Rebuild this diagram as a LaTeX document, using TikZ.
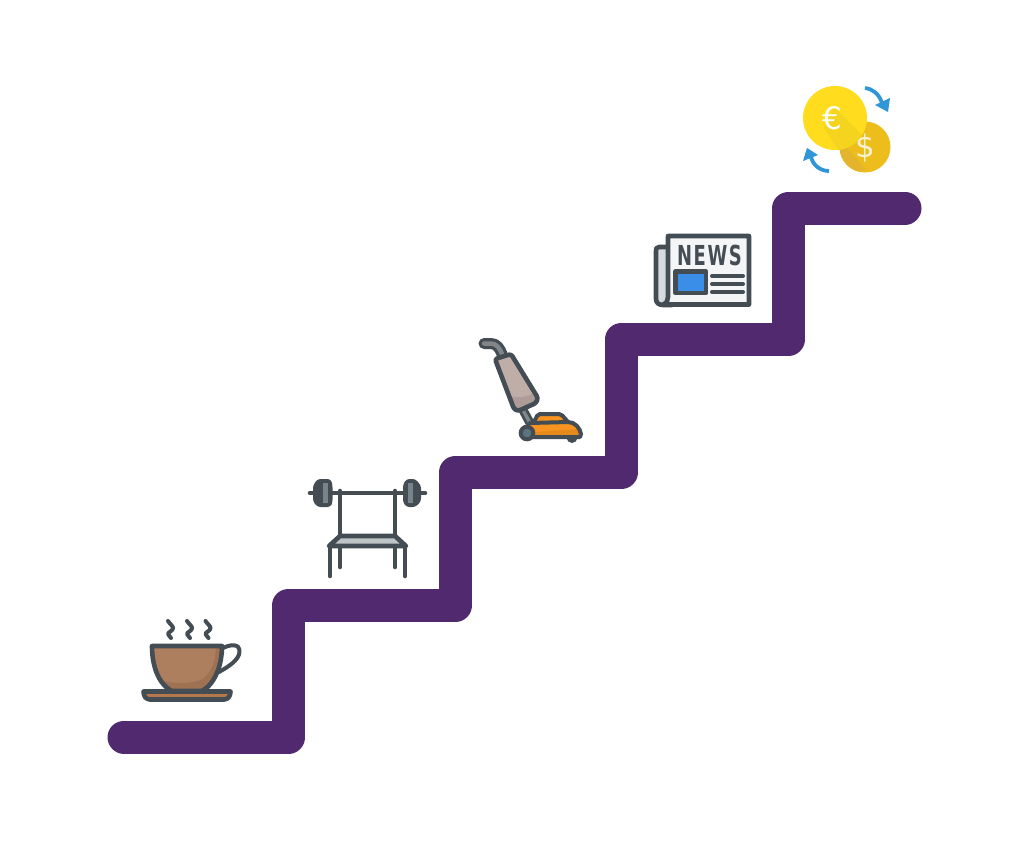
\documentclass[tikz,border=0pt]{standalone}
\usepackage{fontspec}
\setmainfont{DejaVu Sans}
\usepackage{graphicx}
\usetikzlibrary{calc}
\definecolor{stairc}{HTML}{50296E}
\definecolor{ink}{HTML}{434D53}
\definecolor{coffee}{HTML}{AE7F5F}
\definecolor{coffeedk}{HTML}{A07254}
\definecolor{saucer}{HTML}{B5774B}
\definecolor{euro}{HTML}{FFDC1E}
\definecolor{euroshade}{HTML}{F4D41E}
\definecolor{dollar}{HTML}{EDBD1C}
\definecolor{dollardk}{HTML}{E3B42C}
\definecolor{arrowblue}{HTML}{2F97D8}
\definecolor{paper}{HTML}{F4F5F6}
\definecolor{fold}{HTML}{D7DADC}
\definecolor{screenblue}{HTML}{3A8EE8}
\definecolor{bodyc}{HTML}{BFADA8}
\definecolor{bodydk}{HTML}{AD9C97}
\definecolor{tube}{HTML}{808689}
\definecolor{mower}{HTML}{F7931E}
\definecolor{mowerdk}{HTML}{E58A1A}
\definecolor{wheel}{HTML}{5B7482}
\definecolor{plate}{HTML}{78838A}
\definecolor{benchc}{HTML}{BFC4C6}
\tikzset{
  stair/.style={draw=stairc,line width=33pt,line cap=round,line join=round},
  inkline/.style={draw=ink,line width=4.6pt,line cap=round,line join=round},
  thinink/.style={draw=ink,line width=4pt,line cap=round,line join=round},
  swoop/.style={draw=arrowblue,line width=3.8pt},
  tip/.style={fill=arrowblue,draw=none}
}
\begin{document}
\begin{tikzpicture}[x=1pt,y=-1pt]
\useasboundingbox (0,0) rectangle (1028,847);
\fill[white] (0,0) rectangle (1028,847);
% stairs
\draw[stair] (124,737) -- (288.7,737) -- (288.7,605) -- (455.7,605) -- (455.7,472) -- (621.7,472) -- (621.7,339) -- (788.7,339) -- (788.7,208) -- (905,208);
% cup
\draw[thinink] (168,621) .. controls (170,624) and (173,626) .. (173,628) .. controls (173,631) and (168,632) .. (168,634) .. controls (168,635) and (170,636) .. (171,638);
\draw[thinink] (187,621) .. controls (189,624) and (192,626) .. (192,628) .. controls (192,631) and (187,632) .. (187,634) .. controls (187,635) and (189,636) .. (190,638);
\draw[thinink] (205.5,621) .. controls (207.5,624) and (210.5,626) .. (210.5,628) .. controls (210.5,631) and (205.5,632) .. (205.5,634) .. controls (205.5,635) and (207.5,636) .. (208.5,638);
\draw[thinink] (221,649) .. controls (230,644) and (240,643) .. (239.5,652) .. controls (239,660) and (228,667) .. (219,672);
\fill[coffee] (152,646) -- (222,646) .. controls (222,665) and (215,684) .. (202,691) -- (172,691) .. controls (158,684) and (152,665) .. (152,646) -- cycle;
\fill[coffeedk] (216,646) -- (222,646) .. controls (222,665) and (215,684) .. (202,691) -- (172,691) .. controls (167,688) and (163,684) .. (160,680) .. controls (172,684) and (190,684) .. (200,680) .. controls (211,676) and (216,660) .. (216,646) -- cycle;
\draw[inkline] (152,646) -- (222,646) .. controls (222,665) and (215,684) .. (202,691) -- (172,691) .. controls (158,684) and (152,665) .. (152,646) -- cycle;
\fill[saucer] (143.5,691) -- (230.5,691) .. controls (230.5,696) and (228,699.5) .. (224,699.5) -- (150,699.5) .. controls (146,699.5) and (143.5,696) .. (143.5,691) -- cycle;
\draw[inkline] (143.5,691.5) -- (230.5,691.5) .. controls (230.5,696) and (228,699.5) .. (224,699.5) -- (150,699.5) .. controls (146,699.5) and (143.5,696) .. (143.5,691.5) -- cycle;
% barbell
\draw[inkline] (310,493) -- (425,493);
\draw[inkline] (340,491) -- (340,535);
\draw[inkline] (395,491) -- (395,535);
\draw[inkline] (340,546) -- (340,567);
\draw[inkline] (395,546) -- (395,567);
\fill[benchc] (340,537) -- (395,537) -- (404,545) -- (331,545) -- cycle;
\draw[inkline] (340,536) -- (395,536) -- (406,546) -- (329,546) -- cycle;
\draw[inkline] (330,546) -- (330,576);
\draw[inkline] (405,546) -- (405,576);
\filldraw[fill=ink,draw=ink,line width=2pt,line join=round,rounded corners=2.5pt] (314,486) -- (318,480) -- (330,480) -- (331.5,485) -- (331.5,502) -- (330,506) -- (318,506) -- (314,501) -- cycle;
\filldraw[fill=ink,draw=ink,line width=2pt,line join=round,rounded corners=2.5pt] (404,485) -- (407,480) -- (415,480) -- (420,486) -- (420,501) -- (415,506) -- (407,506) -- (404,502) -- cycle;
\fill[plate] (322.7,483) rectangle (328.3,503);
\fill[plate] (408,483) rectangle (413.3,503);
% vacuum
\draw[draw=ink,line width=11pt,line cap=round,line join=round] (484,343.5) -- (491,343.5) .. controls (497,343.5) and (500,349) .. (502,354);
\draw[draw=tube,line width=4.5pt,line cap=round,line join=round] (484,343.5) -- (491,343.5) .. controls (497,343.5) and (500,349) .. (502,354);
\draw[draw=ink,line width=9pt,line cap=round] (523,410) -- (530,423);
\draw[draw=tube,line width=3.5pt] (523,410) -- (530,423);
\fill[bodyc,rounded corners=2.5pt] (495,359) -- (511,354) -- (538,398) -- (536,403) -- (518,411) -- (514,409) -- cycle;
\fill[bodydk] (509,396) .. controls (520,399) and (530,396) .. (535,392) -- (538,398) -- (536,403) -- (518,411) -- (514,409) -- cycle;
\draw[inkline,rounded corners=2.5pt] (495,359) -- (511,354) -- (538,398) -- (536,403) -- (518,411) -- (514,409) -- cycle;
\fill[mower] (534,422) -- (538,414) -- (561,414) -- (568,422) -- cycle;
\draw[thinink,rounded corners=2pt] (534,422) -- (538,414) -- (561,414) -- (568,422);
\fill[ink] (572,437.5) circle[radius=5.5];
\fill[mower] (530,423) -- (568,422) .. controls (575,422) and (580,428) .. (581,434) -- (580,437) -- (528,437) -- cycle;
\fill[mowerdk] (534,432) -- (579,429) -- (581,434) -- (580,437) -- (534,437) -- cycle;
\draw[thinink] (530,423) -- (568,422) .. controls (575,422) and (580,428) .. (581,434) -- (580,437) -- (528,437);
\filldraw[fill=wheel,draw=ink,line width=4pt] (527,433) circle[radius=6.3];
% news
\fill[fold] (667,247) -- (659,247) .. controls (656,247) and (656,249) .. (656,251) -- (656,299) .. controls (656,303) and (659,305) .. (663,305) -- (671,305) -- cycle;
\draw[inkline] (667,247) -- (659,247) .. controls (656,247) and (656,249) .. (656,251) -- (656,299) .. controls (656,303) and (659,305) .. (663,305) -- (672,305);
\filldraw[fill=paper,draw=ink,line width=4.6pt,line join=round] (668,236) -- (749,236) -- (749,304.5) -- (663,304.5) .. controls (667,303) and (668,300) .. (668,297) -- cycle;
\node[inner sep=0pt,text=ink] (newshead) at (709.5,255.5) {\scalebox{1.12}[1.72]{\fontsize{16}{16}\fontspec{DejaVu Sans}\addfontfeature{LetterSpace=9}\bfseries NEWS}};
\filldraw[fill=screenblue,draw=ink,line width=4.6pt,line join=round] (675.5,271.5) rectangle (706,293);
\draw[thinink] (712,276) -- (743,276);
\draw[thinink] (712,284) -- (743,284);
\draw[thinink] (712,292) -- (743,292);
% coins
\fill[dollar] (865,147) circle[radius=25.5];
\begin{scope}
\clip (865,147) circle[radius=25.5];
\fill[dollardk] (840,140) -- (866,170) -- (840,175) -- cycle;
\end{scope}
\node[inner sep=0pt,text=white!80!dollar,font=\fontsize{31}{31}\selectfont] (dollarsign) at (865,148) {\$};
\fill[euro] (835,118) circle[radius=32];
\begin{scope}
\clip (835,118) circle[radius=32];
\fill[euroshade] (834,107) -- (867,140) -- (845,160) -- (824,128) -- cycle;
\end{scope}
\node[inner sep=0pt,text=white,font=\fontsize{31}{31}\selectfont] (eurosign) at (832,118) {€};
% exchange arrows
\draw[swoop] (865,88) .. controls (873,89) and (879,94) .. (882,103);
\fill[tip] (890,98) -- (875,105) -- (888,112) -- cycle;
\draw[swoop] (829,171) .. controls (820,171) and (813,165) .. (811,157);
\fill[tip] (803,161) -- (807,148) -- (818,155) -- cycle;
\end{tikzpicture}
\end{document}
